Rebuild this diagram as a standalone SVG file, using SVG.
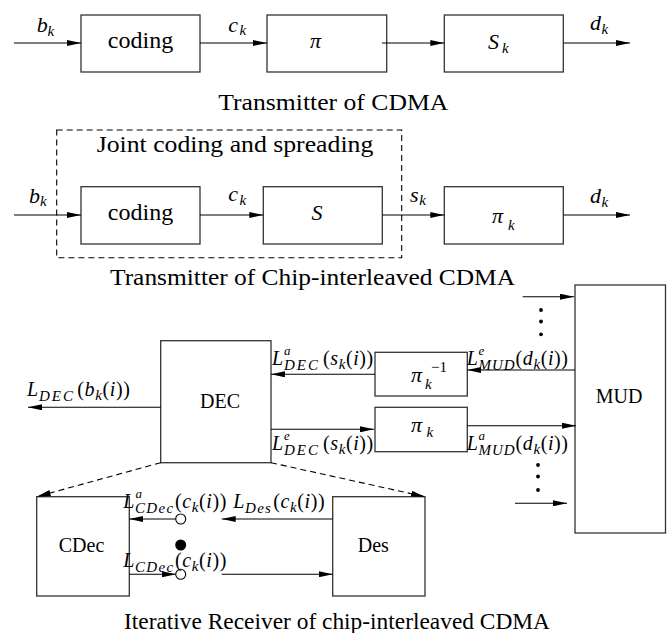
<svg xmlns="http://www.w3.org/2000/svg" width="668" height="633" viewBox="0 0 668 633" font-family="'Liberation Serif', 'Times New Roman', 'DejaVu Serif', serif">
<style>
text{font-family:'Liberation Serif','Times New Roman','DejaVu Serif',serif;fill:#000}
.box{fill:#fff;stroke:#333;stroke-width:1.3}
.ln{fill:none;stroke:#000;stroke-width:1.1}
.ar{marker-end:url(#ah)}
.dash{fill:none;stroke:#000;stroke-width:1.1;stroke-dasharray:6 4}
.i{font-style:italic}
.mt{font-size:20px;letter-spacing:0.6px}
.sb{font-size:15px;font-style:italic}
.sp{font-size:13px;font-style:italic}
.cap{font-size:23px}
.blk{font-size:20px;text-anchor:middle}
.var{font-size:22px;font-style:italic}
.dot{fill:#000}
</style>
<defs>
<marker id="ah" viewBox="0 0 14 6" markerWidth="14" markerHeight="6" refX="14" refY="3" orient="auto" markerUnits="userSpaceOnUse"><path d="M0,0 L14,3 L0,6 Z" fill="#000"/></marker>
</defs>

<g id="nodes">
<g id="tx1-coding"><rect class="box" x="81" y="15" width="119" height="57"/><text x="140.5" y="48" font-size="24" text-anchor="middle">coding</text></g>
<g id="tx1-pi"><rect class="box" x="267" y="15" width="119.7" height="57"/><text class="var" x="310" y="48" font-size="26">π</text></g>
<g id="tx1-sk"><rect class="box" x="444.3" y="15" width="119" height="57"/><text class="var" x="488" y="49.3" font-size="23">S<tspan class="sb" x="502" y="53">k</tspan></text></g>

<g id="joint"><rect class="dash" x="56.7" y="130" width="345" height="127.7"/><text class="cap" x="96.7" y="152.3" textLength="276.6" lengthAdjust="spacingAndGlyphs">Joint coding and spreading</text></g>
<g id="tx2-coding"><rect class="box" x="81" y="186.7" width="119" height="57.3"/><text x="140.5" y="220" font-size="24" text-anchor="middle">coding</text></g>
<g id="tx2-S"><rect class="box" x="263.3" y="186.7" width="119" height="57.3"/><text class="var" x="311.5" y="220" font-size="23">S</text></g>
<g id="tx2-pik"><rect class="box" x="444.3" y="186.7" width="119" height="57.3"/><text class="var" x="492" y="223.3" font-size="24">π<tspan class="sb" x="508" y="230">k</tspan></text></g>

<g id="mud"><rect class="box" x="575" y="285" width="90.5" height="248"/><text class="blk" x="619" y="403">MUD</text></g>
<g id="dec"><rect class="box" x="160.7" y="340.7" width="110.3" height="122"/><text class="blk" x="220" y="408">DEC</text></g>
<g id="pi-inv"><rect class="box" x="375" y="352.3" width="92.3" height="43.7"/><text class="var" x="411" y="381.7" font-size="24">π<tspan class="sb" x="425" y="389">k</tspan><tspan x="431" y="371.7" font-size="15" font-style="normal">−1</tspan></text></g>
<g id="pi-k"><rect class="box" x="375" y="407.3" width="92.3" height="44.4"/><text class="var" x="411" y="431.7" font-size="24">π<tspan class="sb" x="426.5" y="436.7">k</tspan></text></g>
<g id="cdec"><rect class="box" x="36.7" y="496.7" width="92.6" height="99.3"/><text class="blk" x="81.5" y="551.7">CDec</text></g>
<g id="des"><rect class="box" x="332.7" y="496.7" width="92.3" height="99.3"/><text class="blk" x="373.3" y="551.7">Des</text></g>
</g>

<g id="connectors">
<line class="ln ar" x1="14" y1="43" x2="81" y2="43"/>
<line class="ln ar" x1="200" y1="43" x2="267" y2="43"/>
<line class="ln ar" x1="382" y1="43" x2="444.3" y2="43"/>
<line class="ln ar" x1="563.3" y1="43" x2="630" y2="43"/>

<line class="ln ar" x1="14" y1="215" x2="81" y2="215"/>
<line class="ln ar" x1="200" y1="215" x2="263.3" y2="215"/>
<line class="ln ar" x1="382.3" y1="215" x2="444.3" y2="215"/>
<line class="ln ar" x1="563.3" y1="215" x2="630" y2="215"/>

<line class="ln ar" x1="522.7" y1="296.7" x2="574" y2="296.7"/>
<circle class="dot" cx="541" cy="310" r="1.9"/>
<circle class="dot" cx="541" cy="321.5" r="1.9"/>
<circle class="dot" cx="541" cy="334.3" r="1.9"/>
<line class="ln ar" x1="575" y1="370" x2="467.3" y2="370"/>
<line class="ln ar" x1="375" y1="374.3" x2="271" y2="374.3"/>
<line class="ln ar" x1="160.7" y1="407.3" x2="28" y2="407.3"/>
<line class="ln ar" x1="271" y1="429.3" x2="374" y2="429.3"/>
<line class="ln ar" x1="467.3" y1="425.7" x2="576" y2="425.7"/>
<circle class="dot" cx="538" cy="465" r="1.9"/>
<circle class="dot" cx="538" cy="476.5" r="1.9"/>
<circle class="dot" cx="538" cy="490" r="1.9"/>
<line class="ln ar" x1="515" y1="503.3" x2="567" y2="503.3"/>

<line class="dash ar" x1="160.7" y1="462.7" x2="36.7" y2="496.7"/>
<line class="dash ar" x1="271" y1="462.7" x2="425" y2="496.7"/>

<line class="ln ar" x1="332.7" y1="519" x2="221.7" y2="519"/>
<circle cx="180.7" cy="519" r="5" fill="#fff" stroke="#000" stroke-width="1.1"/>
<line class="ln ar" x1="175.7" y1="519" x2="129.3" y2="519"/>
<circle class="dot" cx="180.7" cy="545" r="5.5"/>
<line class="ln ar" x1="129.3" y1="574.3" x2="176" y2="574.3"/>
<circle cx="180.7" cy="574.3" r="5" fill="#fff" stroke="#000" stroke-width="1.1"/>
<line class="ln ar" x1="221.7" y1="574.3" x2="332.7" y2="574.3"/>
</g>

<g id="labels">
<text class="var" x="36.7" y="31.7">b<tspan class="sb" x="47.5" y="35.5">k</tspan></text>
<text class="var" x="228.3" y="31.7">c<tspan class="sb" x="239.5" y="35">k</tspan></text>
<text class="var" x="590" y="30">d<tspan class="sb" x="601.5" y="33.5">k</tspan></text>

<text class="var" x="29" y="202.7">b<tspan class="sb" x="40" y="206">k</tspan></text>
<text class="var" x="228.3" y="201">c<tspan class="sb" x="239.5" y="204.5">k</tspan></text>
<text class="var" x="410" y="201.7">s<tspan class="sb" x="419.3" y="205">k</tspan></text>
<text class="var" x="590" y="203.3">d<tspan class="sb" x="601.5" y="206.5">k</tspan></text>

<text class="mt" y="365"><tspan class="i" x="272">L</tspan><tspan class="sp" x="284" y="355">a</tspan><tspan class="sb" x="284" y="370" letter-spacing="2">DEC</tspan><tspan x="323" y="365">(</tspan><tspan class="i">s</tspan><tspan class="sb" dy="4">k</tspan><tspan dy="-4">(</tspan><tspan class="i">i</tspan><tspan>))</tspan></text>
<text class="mt" y="450"><tspan class="i" x="272">L</tspan><tspan class="sp" x="284" y="440">e</tspan><tspan class="sb" x="284" y="455" letter-spacing="2">DEC</tspan><tspan x="323" y="450">(</tspan><tspan class="i">s</tspan><tspan class="sb" dy="4">k</tspan><tspan dy="-4">(</tspan><tspan class="i">i</tspan><tspan>))</tspan></text>

<text class="mt" y="365"><tspan class="i" x="466.7">L</tspan><tspan class="sp" x="478.5" y="355">e</tspan><tspan class="sb" x="478.5" y="370" letter-spacing="1">MUD</tspan><tspan x="515.5" y="365">(</tspan><tspan class="i">d</tspan><tspan class="sb" dy="4">k</tspan><tspan dy="-4">(</tspan><tspan class="i">i</tspan><tspan>))</tspan></text>
<text class="mt" y="450"><tspan class="i" x="466.7">L</tspan><tspan class="sp" x="478.5" y="440">a</tspan><tspan class="sb" x="478.5" y="455" letter-spacing="1">MUD</tspan><tspan x="515.5" y="450">(</tspan><tspan class="i">d</tspan><tspan class="sb" dy="4">k</tspan><tspan dy="-4">(</tspan><tspan class="i">i</tspan><tspan>))</tspan></text>

<text class="mt" y="396"><tspan class="i" x="27">L</tspan><tspan class="sb" x="39" y="401" letter-spacing="2">DEC</tspan><tspan x="77.3" y="396">(</tspan><tspan class="i">b</tspan><tspan class="sb" dy="4">k</tspan><tspan dy="-4">(</tspan><tspan class="i">i</tspan><tspan>))</tspan></text>

<text class="mt" y="508"><tspan class="i" x="123.3">L</tspan><tspan class="sp" x="135.5" y="498">a</tspan><tspan class="sb" x="135" y="513" letter-spacing="1.3">CDec</tspan><tspan x="175" y="508">(</tspan><tspan class="i">c</tspan><tspan class="sb" dy="4">k</tspan><tspan dy="-4">(</tspan><tspan class="i">i</tspan><tspan>))</tspan></text>
<text class="mt" y="508"><tspan class="i" x="233.3">L</tspan><tspan class="sb" x="245" y="513" letter-spacing="1.3">Des</tspan><tspan x="273.3" y="508">(</tspan><tspan class="i">c</tspan><tspan class="sb" dy="4">k</tspan><tspan dy="-4">(</tspan><tspan class="i">i</tspan><tspan>))</tspan></text>
<text class="mt" y="567"><tspan class="i" x="123.3">L</tspan><tspan class="sb" x="135" y="572" letter-spacing="1.3">CDec</tspan><tspan x="175" y="567">(</tspan><tspan class="i">c</tspan><tspan class="sb" dy="4">k</tspan><tspan dy="-4">(</tspan><tspan class="i">i</tspan><tspan>))</tspan></text>

<text class="cap" x="218.3" y="110" textLength="230" lengthAdjust="spacingAndGlyphs">Transmitter of CDMA</text>
<text class="cap" x="110" y="285" textLength="405" lengthAdjust="spacingAndGlyphs">Transmitter of Chip-interleaved CDMA</text>
<text class="cap" x="124" y="629.3" textLength="426" lengthAdjust="spacingAndGlyphs">Iterative Receiver of chip-interleaved CDMA</text>
</g>
</svg>
